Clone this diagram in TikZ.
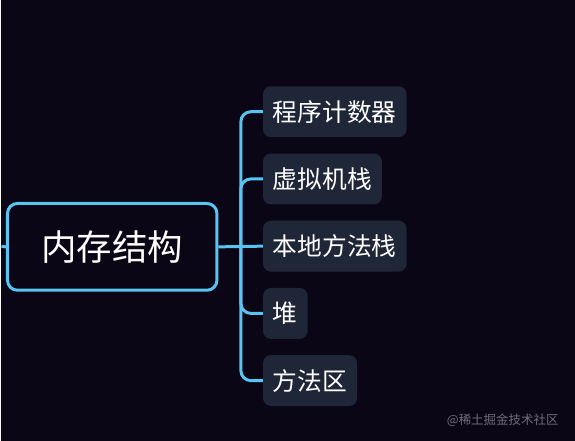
\documentclass[tikz,border=0pt]{standalone}
\usepackage{fontspec}
\usepackage{tikz}
\usetikzlibrary{positioning}
\newfontfamily\cjk{Noto Sans CJK SC}
\definecolor{bgdark}{RGB}{10,6,22}
\definecolor{linkblue}{RGB}{88,196,242}
\definecolor{leaffill}{RGB}{31,38,55}
\definecolor{markgrey}{RGB}{112,108,122}

\begin{document}
\begin{tikzpicture}[x=1pt,y=-1pt,
  root/.style={draw=linkblue,line width=3pt,fill=bgdark,rounded corners=10pt,
    minimum width=210pt,minimum height=87pt,text=white,font=\cjk\fontsize{35.5}{40}\selectfont},
  leaf/.style={fill=leaffill,rounded corners=8pt,inner xsep=10pt,
    minimum height=51pt,text=white,font=\cjk\fontsize{24.8}{28}\selectfont},
  branch/.style={draw=linkblue,line width=3pt,rounded corners=10pt}]
  \fill[bgdark] (0,0) rectangle (575,442);
  \node[root](mem) at (111,247.5){内存结构};
  \node[leaf,anchor=west](pc) at (262,112){程序计数器};
  \node[leaf,below=16pt of pc.south west,anchor=north west](vms){虚拟机栈};
  \node[leaf,below=16pt of vms.south west,anchor=north west](nms){本地方法栈};
  \node[leaf,below=16pt of nms.south west,anchor=north west](heap){堆};
  \node[leaf,below=16pt of heap.south west,anchor=north west](ma){方法区};
  % connectors
  \coordinate (lft) at (0,247);
  \coordinate (fork) at (240,247);
  \draw[branch] (lft) -- (mem.west);
  \draw[branch] (mem.east) -- (nms.west);
  \draw[branch] (fork) |- (pc.west);
  \draw[branch] (fork) |- (vms.west);
  \draw[branch] (fork) |- (heap.west);
  \draw[branch] (fork) |- (ma.west);
  \node[text=markgrey,font=\cjk\fontsize{12.5}{14}\selectfont,anchor=east](wm) at (562,421){@稀土掘金技术社区};
\end{tikzpicture}
\end{document}
